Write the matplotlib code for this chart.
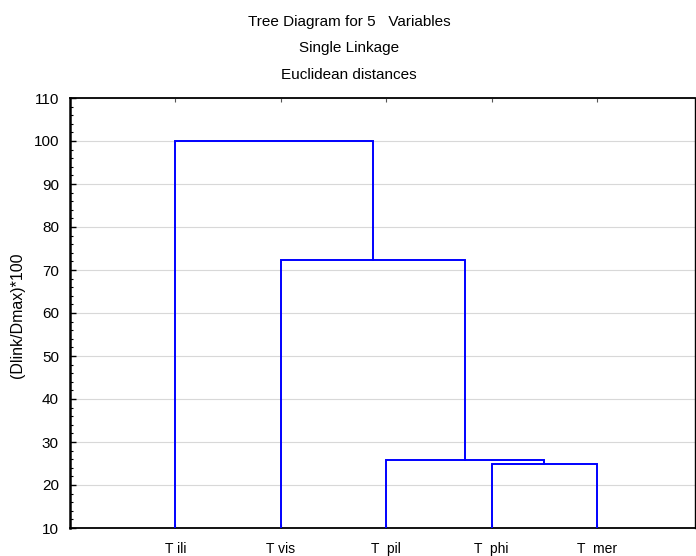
import matplotlib
matplotlib.use("Agg")
import matplotlib.pyplot as plt
from matplotlib.ticker import MultipleLocator

plt.rcParams["font.family"] = ["Liberation Sans", "DejaVu Sans"]

# leaf order and labels along the x axis
labels = ["T ili", "T vis", "T  pil", "T  phi", "T  mer"]

# merges: (left child, right child, linkage height); children are leaf index or "c<k>" cluster
merges = [
    (3, 4, 24.8),
    (2, "c0", 25.9),
    (1, "c1", 72.3),
    (0, "c2", 100.0),
]

BLUE = "#0000ff"


def main() -> None:
    fig = plt.figure(figsize=(6.96, 5.56), dpi=100)
    ax = fig.add_axes([70 / 696, 28 / 556, 625 / 696, 430 / 556])

    ymin = 10
    pos = {}  # node -> (x, y)
    for i in range(len(labels)):
        pos[i] = (i + 1, ymin)

    for k, (a, b, h) in enumerate(merges):
        xa, ya = pos[a]
        xb, yb = pos[b]
        ax.plot([xa, xa, xb, xb], [ya, h, h, yb], color=BLUE, lw=1.4,
                solid_joinstyle="miter", zorder=3)
        pos[f"c{k}"] = ((xa + xb) / 2, h)

    ax.set_xlim(0, 5.93)
    ax.set_ylim(10, 110)
    ax.set_xticks(range(1, len(labels) + 1))
    ax.set_xticklabels(labels)
    ax.yaxis.set_major_locator(MultipleLocator(10))
    ax.yaxis.set_minor_locator(MultipleLocator(2))

    ax.tick_params(axis="x", direction="in", length=3, width=0.8, color="#555555",
                   top=True, bottom=True, labelsize=10, pad=10)
    ax.tick_params(axis="y", which="major", direction="in", length=4, width=1,
                   labelsize=11, pad=8)
    ax.tick_params(axis="y", which="minor", direction="in", length=2, width=0.8)

    ax.grid(axis="y", color="#d8d8d8", lw=0.8, zorder=0)
    ax.set_axisbelow(True)

    ax.spines["left"].set_linewidth(1.8)
    ax.spines["bottom"].set_linewidth(1.3)
    ax.spines["top"].set_linewidth(1.3)
    ax.spines["right"].set_linewidth(1.0)

    fig.text(18 / 696, 1 - 315 / 556, "(Dlink/Dmax)*100", rotation=90,
             ha="center", va="center", fontsize=11.5)
    fig.text(349 / 696, 1 - 22 / 556, "Tree Diagram for 5   Variables",
             ha="center", va="center", fontsize=11)
    fig.text(349 / 696, 1 - 48 / 556, "Single Linkage",
             ha="center", va="center", fontsize=11)
    fig.text(349 / 696, 1 - 75 / 556, "Euclidean distances",
             ha="center", va="center", fontsize=11)

    fig.savefig("out.png", dpi=100)
    plt.close(fig)


if __name__ == "__main__":
    main()
